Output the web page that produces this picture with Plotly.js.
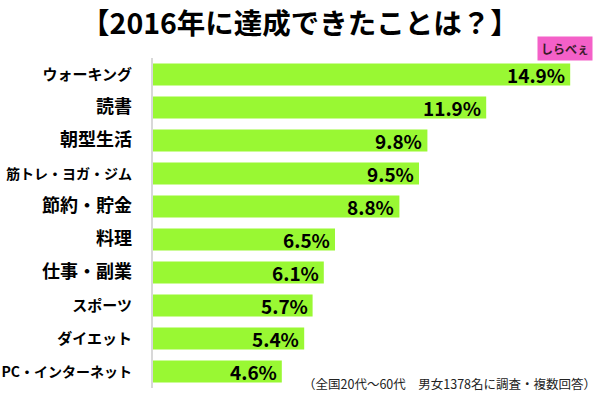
<!DOCTYPE html>
<html><head><meta charset="utf-8">
<script src="https://cdn.plot.ly/plotly-3.0.1.min.js"></script>
<style>body{margin:0;background:#fff}#c{width:600px;height:400px}</style>
</head><body><div id="c"></div>
<script>
const categories = ["ウォーキング","読書","朝型生活","筋トレ・ヨガ・ジム","節約・貯金","料理","仕事・副業","スポーツ","ダイエット","PC・インターネット"];
const values = [14.9, 11.9, 9.8, 9.5, 8.8, 6.5, 6.1, 5.7, 5.4, 4.6];
const labels = values.map(v => v.toFixed(1) + "%");
const titleText = "【2016年に達成できたことは？】";
const noteText = "（全国20代～60代　男女1378名に調査・複数回答）";
const logoText = "しらべぇ";

const F = "'Noto Sans CJK JP', 'Noto Sans', sans-serif";
// the reference font is condensed for katakana; approximate by sizing katakana labels smaller
const tickText = categories.map(c => {
  const kana = /[\u30A1-\u30FA\u30FC]/.test(c);
  const size = kana ? (c.length >= 9 ? 14 : 15) : 18;
  return '<span style="font-size:' + size + 'px">' + c + '</span>';
});
const valueAnns = values.map((v, i) => ({
  x: v, y: categories[i], xref: "x", yref: "y", text: labels[i],
  xanchor: "right", yanchor: "middle", xshift: -3, showarrow: false,
  font: {family: F, size: 19, color: "#000", weight: "bold"}
}));
Plotly.newPlot("c", [{
  type: "bar", orientation: "h",
  x: values, y: categories,
  marker: {color: "#99f833"},
  hoverinfo: "none"
}], {
  width: 600, height: 400,
  margin: {l: 153, r: 10, t: 58, b: 12},
  paper_bgcolor: "#fff", plot_bgcolor: "#fff",
  bargap: 0.33,
  title: {text: titleText, x: 0.5, xanchor: "center", y: 0.94, yanchor: "middle",
          font: {family: F, size: 28.5, color: "#000", weight: "bold"}},
  xaxis: {range: [0, 15.607], visible: false, fixedrange: true},
  yaxis: {autorange: "reversed", showline: true, linecolor: "#d8d8d8", linewidth: 2,
          ticks: "", ticklabelstandoff: 16, showgrid: false,
          tickmode: "array", tickvals: categories, ticktext: tickText,
          tickfont: {family: F, size: 15, color: "#000", weight: "bold"}},
  showlegend: false,
  annotations: valueAnns.concat([
    {text: noteText, xref: "paper", yref: "paper", x: 1.018, y: 0.015, xanchor: "right", yanchor: "middle",
     showarrow: false, font: {family: F, size: 12.5, color: "#222"}},
    {text: "<b>" + logoText + "</b>", xref: "paper", yref: "paper", x: 1.007, y: 1.03, xanchor: "right", yanchor: "middle",
     showarrow: false, bgcolor: "#f460c8", borderpad: 3, font: {family: F, size: 12, color: "#3a1a2a"}}
  ])
}, {displayModeBar: false, staticPlot: true});
</script></body></html>
